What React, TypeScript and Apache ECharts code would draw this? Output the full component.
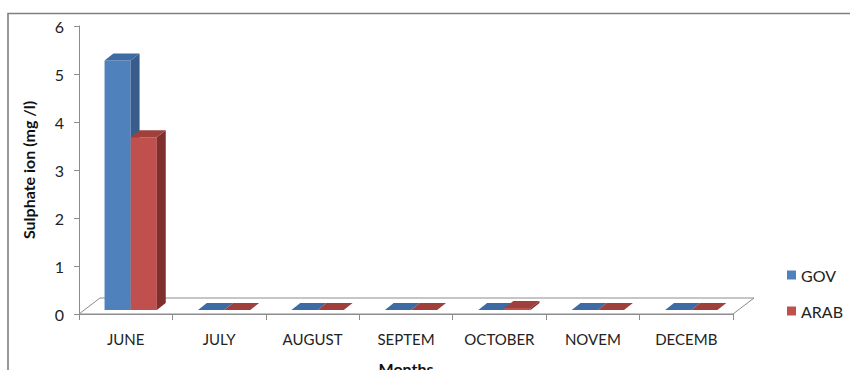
import React, { useEffect, useRef } from "react";
import * as echarts from "echarts";

const months = ["JUNE", "JULY", "AUGUST", "SEPTEM", "OCTOBER", "NOVEM", "DECEMB"];
const govValues = [5.2, 0, 0, 0, 0, 0, 0];
const arabValues = [3.6, 0, 0, 0, 0.04, 0, 0];
const seriesNames = ["GOV", "ARAB"];
const yTicks = { min: 0, max: 6, interval: 1 };

const FONT = "Lato, 'Liberation Sans', sans-serif";

const palette = {
  GOV: { front: "#4F81BD", side: "#385D8A", top: "#3E6BA3" },
  ARAB: { front: "#C0504D", side: "#7F302E", top: "#A0403D" },
};

function makeBarRender(which: "GOV" | "ARAB") {
  const col = palette[which];
  return (params: any, api: any) => {
    const idx = api.value(0);
    const v = api.value(1);
    const cTop = api.coord([idx, v]);
    const c0 = api.coord([idx, 0]);
    const band = api.size([1, 0])[0];
    const w = band * 0.28;
    const dx = band * 0.095;
    const dy = -7;
    const sx = 5;
    const sy = -4;
    const left = (which === "GOV" ? c0[0] - w : c0[0]) + sx;
    const bottom = c0[1] + sy;
    const top = cTop[1] + sy;
    const right = left + w;
    const children: any[] = [];
    if (bottom - top > 0.5) {
      children.push({
        type: "rect",
        shape: { x: left, y: top, width: w, height: bottom - top },
        style: { fill: col.front },
      });
      children.push({
        type: "polygon",
        shape: { points: [[right, top], [right + dx, top + dy], [right + dx, bottom + dy], [right, bottom]] },
        style: { fill: col.side },
      });
    }
    children.push({
      type: "polygon",
      shape: { points: [[left, top], [left + dx, top + dy], [right + dx, top + dy], [right, top]] },
      style: { fill: col.top },
    });
    return { type: "group", children };
  };
}

function floorRender(params: any, api: any) {
  const cs = params.coordSys;
  const x0 = cs.x;
  const x1 = cs.x + cs.width;
  const y0 = api.coord([0, 0])[1];
  const ddx = 21;
  const ddy = -16;
  return {
    type: "polygon",
    shape: { points: [[x0, y0], [x1, y0], [x1 + ddx, y0 + ddy], [x0 + ddx, y0 + ddy]] },
    style: { fill: "#ffffff", stroke: "#8c8c8c", lineWidth: 1 },
  };
}

export default function App() {
  const ref = useRef<HTMLDivElement>(null);
  useEffect(() => {
    if (!ref.current) return;
    const chart = echarts.init(ref.current, null, { renderer: "svg" });
    chart.setOption({
      animation: false,
      backgroundColor: "#ffffff",
      textStyle: { fontFamily: FONT },
      graphic: [
        {
          type: "rect",
          shape: { x: 8, y: 13.5, width: 900, height: 400 },
          style: { fill: "none", stroke: "#7f7f7f", lineWidth: 1.6 },
          z: 0,
          silent: true,
        },
      ],
      grid: { left: 79, right: 117, top: 26, bottom: 56, containLabel: false, outerBoundsMode: "none" },
      legend: {
        data: seriesNames,
        orient: "vertical",
        left: 782,
        top: 262,
        itemWidth: 9,
        itemHeight: 9,
        itemGap: 20,
        icon: "rect",
        textStyle: { fontFamily: FONT, fontSize: 16, color: "#222" },
      },
      xAxis: {
        type: "category",
        data: months,
        name: "Months",
        nameLocation: "middle",
        nameGap: 46,
        nameTextStyle: { fontFamily: FONT, fontSize: 16, fontWeight: "bold", color: "#111" },
        axisLine: { lineStyle: { color: "#8c8c8c", width: 1 } },
        axisTick: { show: true, alignWithLabel: false, length: 6, lineStyle: { color: "#8c8c8c" } },
        axisLabel: { fontFamily: FONT, fontSize: 15, color: "#222", margin: 17 },
        splitLine: { show: false },
      },
      yAxis: {
        type: "value",
        min: yTicks.min,
        max: yTicks.max,
        interval: yTicks.interval,
        name: "Sulphate ion (mg /l)",
        nameLocation: "middle",
        nameGap: 43,
        nameTextStyle: { fontFamily: FONT, fontSize: 16, fontWeight: "bold", color: "#111" },
        axisLine: { show: true, lineStyle: { color: "#8c8c8c", width: 1 } },
        axisTick: { show: true, length: 5, lineStyle: { color: "#8c8c8c" } },
        axisLabel: { fontFamily: FONT, fontSize: 16, color: "#222", margin: 15 },
        splitLine: { show: false },
      },
      series: [
        {
          type: "custom",
          name: "floor",
          renderItem: floorRender,
          data: [[0, 0]],
          encode: { x: 0, y: 1 },
          z: 1,
          silent: true,
        },
        {
          type: "custom",
          name: "GOV",
          renderItem: makeBarRender("GOV"),
          itemStyle: { color: palette.GOV.front },
          data: govValues.map((v, i) => [i, v]),
          encode: { x: 0, y: 1 },
          z: 3,
        },
        {
          type: "custom",
          name: "ARAB",
          renderItem: makeBarRender("ARAB"),
          itemStyle: { color: palette.ARAB.front },
          data: arabValues.map((v, i) => [i, v]),
          encode: { x: 0, y: 1 },
          z: 4,
        },
      ],
    });
    return () => chart.dispose();
  }, []);
  return (
    <div
      ref={ref}
      style={{ position: "absolute", left: 0, top: 0, width: 850, height: 370 }}
    />
  );
}
